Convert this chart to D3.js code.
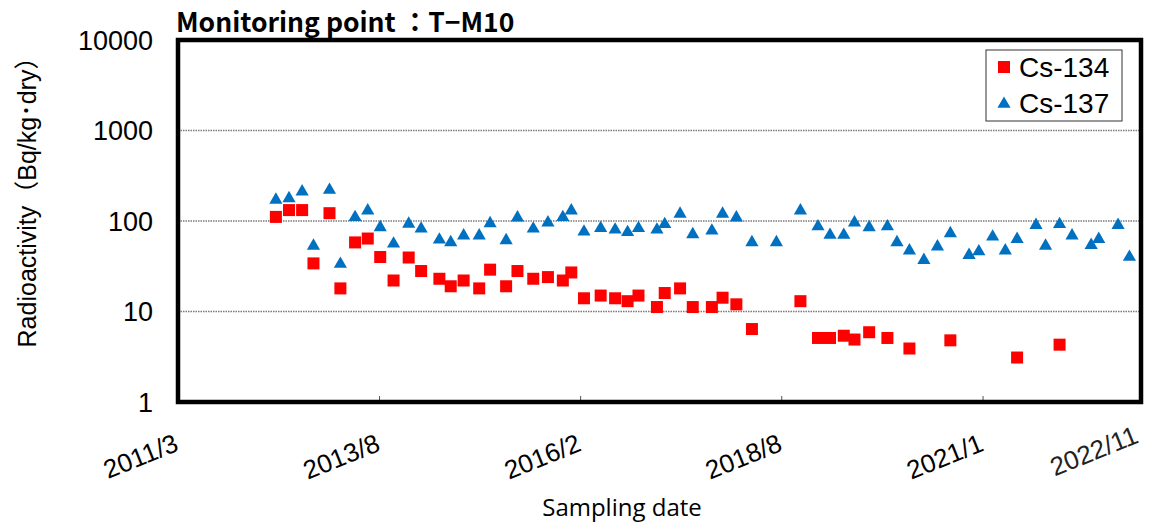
<!DOCTYPE html>
<html>
<head>
<meta charset="utf-8">
<script src="https://cdnjs.cloudflare.com/ajax/libs/d3/7.8.5/d3.min.js"></script>
<style>
  body { margin: 0; background: #fff; }
  svg text { font-family: "Liberation Sans", Arial, "Noto Sans CJK JP", sans-serif; }
</style>
</head>
<body>
<svg id="chart"></svg>
<script>
// sampling dates
const sampleDates = [
  "2012-05-14", "2012-07-12", "2012-09-09", "2012-10-30", "2013-01-10", "2013-02-28",
  "2013-05-05", "2013-07-01", "2013-08-26", "2013-10-25", "2014-01-01", "2014-02-26",
  "2014-05-19", "2014-07-09", "2014-09-05", "2014-11-14", "2015-01-02", "2015-03-15",
  "2015-05-05", "2015-07-15", "2015-09-19", "2015-11-25", "2016-01-02", "2016-02-28",
  "2016-05-13", "2016-07-17", "2016-09-11", "2016-10-30", "2017-01-21", "2017-02-25",
  "2017-05-05", "2017-07-01", "2017-09-25", "2017-11-12", "2018-01-13", "2018-03-24",
  "2018-07-12", "2018-10-28", "2019-01-15", "2019-03-10", "2019-05-11", "2019-06-28",
  "2019-09-02", "2019-11-23", "2020-01-05", "2020-03-01", "2020-05-05", "2020-07-05",
  "2020-09-01", "2020-11-24", "2021-01-07", "2021-03-10", "2021-05-06", "2021-06-28",
  "2021-09-21", "2021-11-03", "2022-01-05", "2022-03-02", "2022-05-27", "2022-06-30",
  "2022-09-25", "2022-11-15"
];

// Cs-134 (null = not plotted)
const cs134 = [
  111, 132, 132, 34, 122, 18,
  58, 64, 40, 22, 39.5, 28,
  23, 19, 22, 18, 29, 19,
  28, 23, 24, 22, 27, 14,
  15, 14, 13, 15, 11.2, 16,
  18, 11.2, 11.2, 14.2, 12, 6.4,
  null, 13, 5.1, 5.1, 5.4, 4.9,
  5.9, 5.1, null, 3.9, null, null,
  4.8, null, null, null, null, 3.1,
  null, null, 4.3, null, null, null,
  null, null
];

// Cs-137
const cs137 = [
  171, 178, 211, 53, 220, 33.5,
  110, 130, 85, 56, 93, 82,
  62, 58, 69, 69, 94, 61,
  109, 82, 96, 110, 130, 76,
  83, 80, 75, 83, 80, 92,
  120, 71, 78, 120, 109, 58,
  58, 130, 87, 70, 70, 96,
  85, 87, 58, 47, 37, 52,
  73, 42, 46, 67, 47, 63,
  90, 53, 92, 69, 54, 63,
  90, 40
];

// axis ticks
const yTicks = [1, 10, 100, 1000, 10000];
const xTickDates = ["2011-03-01", "2013-08-23", "2016-02-13", "2018-08-05", "2021-01-26", "2023-01-15"];
const xTickLabels = ["2011/3", "2013/8", "2016/2", "2018/8", "2021/1", "2022/11"];

const width = 1149, height = 529;
const plotLeft = 178, plotRight = 1141, plotTop = 40, plotBottom = 402;

const parse = d3.timeParse("%Y-%m-%d");

const svg = d3.select("#chart")
  .attr("width", width)
  .attr("height", height);

const x = d3.scaleTime()
  .domain([parse(xTickDates[0]), parse(xTickDates[xTickDates.length - 1])])
  .range([plotLeft, 1143]);

const y = d3.scaleLog()
  .domain([1, 10000])
  .range([plotBottom, plotTop]);

// dotted gridlines
svg.append("g")
  .selectAll("line")
  .data(yTicks.slice(1, -1))
  .enter().append("line")
  .attr("x1", plotLeft).attr("x2", plotRight)
  .attr("y1", d => y(d)).attr("y2", d => y(d))
  .attr("stroke", "#7a7a7a")
  .attr("stroke-width", 1.3)
  .attr("stroke-dasharray", "1.5,1");

// y tick labels
svg.append("g")
  .selectAll("text")
  .data(yTicks)
  .enter().append("text")
  .attr("x", 153)
  .attr("y", d => y(d))
  .attr("dy", "0.36em")
  .attr("text-anchor", "end")
  .attr("font-size", 27)
  .attr("fill", "#000")
  .text(d => d);

// small x ticks on the inside of the frame
svg.append("g")
  .selectAll("line")
  .data(xTickDates.slice(1, -1))
  .enter().append("line")
  .attr("x1", d => x(parse(d))).attr("x2", d => x(parse(d)))
  .attr("y1", plotBottom).attr("y2", plotBottom - 6)
  .attr("stroke", "#555")
  .attr("stroke-width", 1);

// x tick labels, rotated
svg.append("g")
  .selectAll("text")
  .data(xTickDates)
  .enter().append("text")
  .attr("transform", (d, i) => {
    const tx = Math.min(x(parse(d)) + 2, 1140);
    const ty = i === xTickDates.length - 1 ? 442 : 450;
    return `translate(${tx},${ty}) rotate(-22)`;
  })
  .attr("text-anchor", "end")
  .attr("font-size", 26)
  .attr("fill", (d, i) => i === xTickDates.length - 1 ? "#222" : "#000")
  .text((d, i) => xTickLabels[i]);

// Cs-137 triangles
const tri = d3.symbol().type(d3.symbolTriangle).size(75);
svg.append("g")
  .selectAll("path")
  .data(sampleDates.map((d, i) => ({ date: parse(d), v: cs137[i] })).filter(d => d.v != null))
  .enter().append("path")
  .attr("d", tri)
  .attr("transform", d => `translate(${x(d.date)},${y(d.v)})`)
  .attr("fill", "#0070C0");

// Cs-134 squares
const sq = 12;
svg.append("g")
  .selectAll("rect")
  .data(sampleDates.map((d, i) => ({ date: parse(d), v: cs134[i] })).filter(d => d.v != null))
  .enter().append("rect")
  .attr("x", d => x(d.date) - sq / 2)
  .attr("y", d => y(d.v) - sq / 2)
  .attr("width", sq)
  .attr("height", sq)
  .attr("fill", "#FF0000");

// plot frame
svg.append("rect")
  .attr("x", plotLeft)
  .attr("y", plotTop)
  .attr("width", plotRight - plotLeft)
  .attr("height", plotBottom - plotTop)
  .attr("fill", "none")
  .attr("stroke", "#000")
  .attr("stroke-width", 4.5);

// legend
const legend = svg.append("g");
legend.append("rect")
  .attr("x", 986).attr("y", 50)
  .attr("width", 136).attr("height", 71)
  .attr("fill", "#fff")
  .attr("stroke", "#333")
  .attr("stroke-width", 1);
legend.append("rect")
  .attr("x", 1004 - sq / 2).attr("y", 67 - sq / 2)
  .attr("width", sq).attr("height", sq)
  .attr("fill", "#FF0000");
legend.append("path")
  .attr("d", tri)
  .attr("transform", "translate(1004,104)")
  .attr("fill", "#0070C0");
legend.append("text")
  .attr("x", 1019).attr("y", 77)
  .attr("font-size", 28)
  .text("Cs-134");
legend.append("text")
  .attr("x", 1019).attr("y", 113)
  .attr("font-size", 28)
  .text("Cs-137");

// title
svg.append("text")
  .attr("x", 176).attr("y", 32)
  .attr("font-size", 26.5)
  .attr("font-weight", "bold")
  .style("font-family", "'Noto Sans CJK JP', sans-serif")
  .text("Monitoring point ：T−M10");

// axis titles
svg.append("text")
  .attr("transform", "translate(36,196) rotate(-90)")
  .attr("text-anchor", "middle")
  .attr("font-size", 25)
  .text("Radioactivity（Bq/kg･dry）");

svg.append("text")
  .attr("x", 622).attr("y", 516)
  .attr("text-anchor", "middle")
  .attr("font-size", 24)
  .style("font-family", "'Open Sans', sans-serif")
  .text("Sampling date");
</script>
</body>
</html>
